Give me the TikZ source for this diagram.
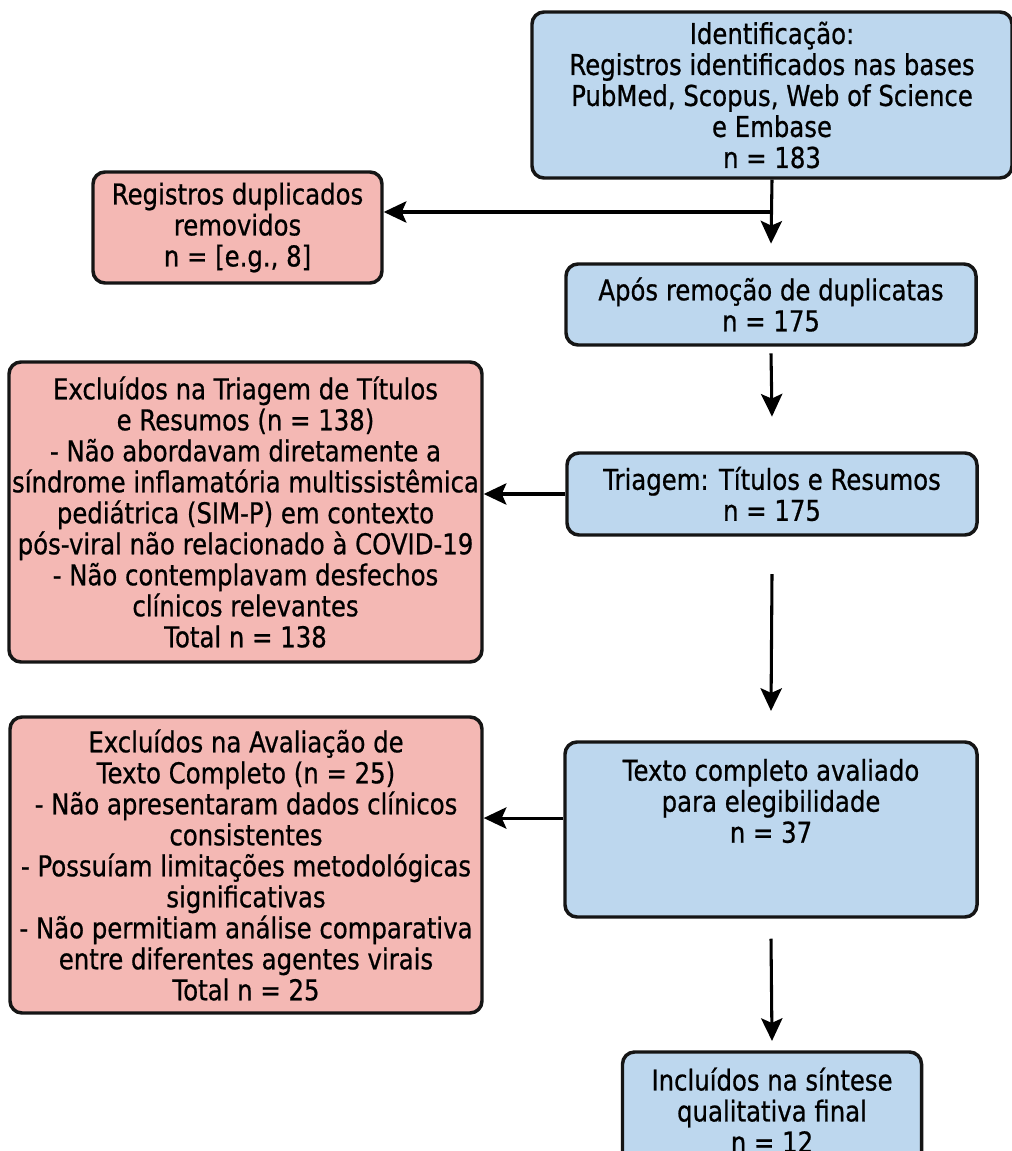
\documentclass[tikz,border=0pt]{standalone}
\usepackage{fontspec}
\setmainfont{DejaVu Sans}[FakeStretch=0.85, FakeBold=0.7]
\usepackage{xcolor}
\definecolor{boxblue}{HTML}{BDD7EE}
\definecolor{boxred}{HTML}{F4B8B4}
\definecolor{edge}{HTML}{151515}
\usepackage{tikz}
\usetikzlibrary{arrows.meta}

\tikzset{
    flowbox/.style={draw=edge, line width=2.6pt, rounded corners=9pt, align=center,
        inner sep=1pt, font=\fontsize{21.5}{23.25}\selectfont},
    bluebox/.style={flowbox, fill=boxblue},
    redbox/.style={flowbox, fill=boxred},
    flowarrow/.style={line width=2.3pt, -{Stealth[length=17pt, width=16pt, inset=3.5pt]}}
}

\begin{document}
\begin{tikzpicture}[x=0.75pt, y=-0.75pt]
            \useasboundingbox (0, 0) rectangle (1011, 1151);

            % right column
            \node[bluebox, minimum width=360pt, minimum height=124.5pt] (ident) at (772, 95)
                {Identificação:\\Registros identificados nas bases\\PubMed, Scopus, Web of Science\\e Embase\\n = 183};
            \node[bluebox, minimum width=307.5pt, minimum height=60.75pt] (apos) at (771, 304.5)
                {Após remoção de duplicatas\\n = 175};
            \node[bluebox, minimum width=307.5pt, minimum height=61.5pt] (triag) at (772, 494)
                {Triagem: Títulos e Resumos\\n = 175};
            \node[bluebox, minimum width=309pt, minimum height=131.25pt] (texto) at (771, 829.5) {};
            \node[align=center, font=\fontsize{21.5}{23.25}\selectfont] (textolbl) at (771, 801)
                {Texto completo avaliado\\para elegibilidade\\n = 37};
            \node[bluebox, minimum width=224.25pt, minimum height=87pt] (incl) at (772, 1110)
                {Incluídos na síntese\\qualitativa final\\n = 12};

            % left column
            \node[redbox, minimum width=216.75pt, minimum height=83.25pt] (dup) at (237.5, 227.5)
                {Registros duplicados\\removidos\\n = [e.g., 8]};
            \node[redbox, minimum width=354.75pt, minimum height=225pt] (excl1) at (245.5, 512)
                {Excluídos na Triagem de Títulos\\e Resumos (n = 138)\\- Não abordavam diretamente a\\síndrome inflamatória multissistêmica\\pediátrica (SIM-P) em contexto\\pós-viral não relacionado à COVID-19\\- Não contemplavam desfechos\\clínicos relevantes\\Total n = 138};
            \node[redbox, minimum width=354pt, minimum height=222pt] (excl2) at (246, 865)
                {Excluídos na Avaliação de\\Texto Completo (n = 25)\\- Não apresentaram dados clínicos\\consistentes\\- Possuíam limitações metodológicas\\significativas\\- Não permitiam análise comparativa\\entre diferentes agentes virais\\Total n = 25};

            \coordinate (split) at (772, 212);

            \draw[flowarrow] (ident.south) to ([yshift=14pt]apos.north);
            \draw[flowarrow] (split) to (split -| dup.east);
            \draw[flowarrow] ([yshift=-5pt]apos.south) to ([yshift=26pt]triag.north);
            \draw[flowarrow] (triag.west) to (triag.west -| excl1.east);
            \draw[flowarrow] ([yshift=-28pt]triag.south) to ([yshift=22pt]texto.north);
            \draw[flowarrow] ([yshift=8.6pt]texto.west) to ([yshift=8.6pt]texto.west -| excl2.east);
            \draw[flowarrow] ([yshift=-15pt]texto.south) to ([yshift=7pt]incl.north);
        \end{tikzpicture}
\end{document}
